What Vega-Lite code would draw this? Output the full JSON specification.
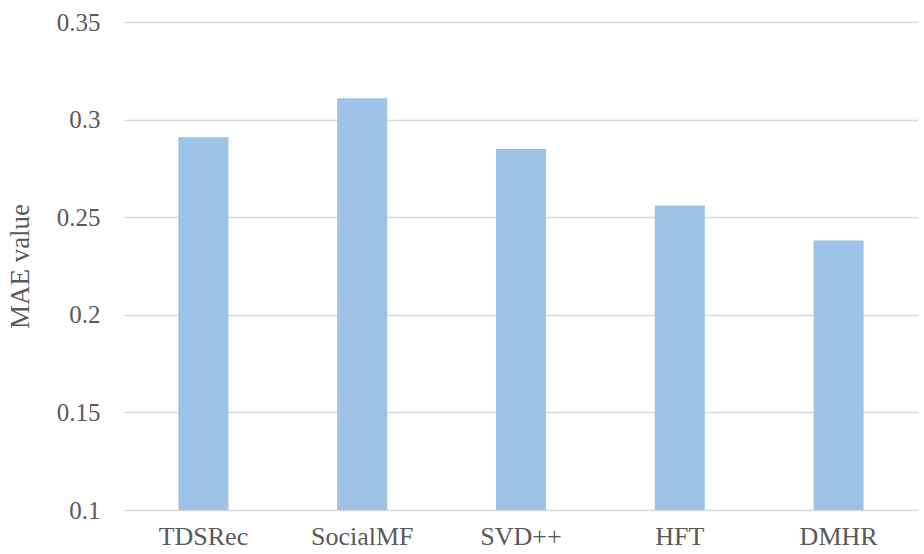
{
  "$schema": "https://vega.github.io/schema/vega-lite/v6.json",
  "width": 794,
  "height": 488,
  "autosize": {"type": "none"},
  "padding": {"left": 124, "top": 22, "right": 6, "bottom": 44},
  "background": "white",
  "config": {
    "view": {"stroke": null},
    "font": "Liberation Serif"
  },
  "data": {
    "values": [
      {"method": "TDSRec", "mae": 0.291},
      {"method": "SocialMF", "mae": 0.311},
      {"method": "SVD++", "mae": 0.285},
      {"method": "HFT", "mae": 0.256},
      {"method": "DMHR", "mae": 0.238}
    ]
  },
  "mark": {"type": "bar", "color": "#9DC3E6"},
  "encoding": {
    "x": {
      "field": "method", "type": "nominal", "sort": null,
      "scale": {"paddingInner": 0.685, "paddingOuter": 0.3425},
      "axis": {"title": null, "labelAngle": 0, "labelFont": "Liberation Serif", "labelColor": "#595959", "labelFontSize": 26, "ticks": false, "domain": false, "labelPadding": 13, "grid": false}
    },
    "y": {
      "field": "mae", "type": "quantitative",
      "scale": {"domain": [0.1, 0.35], "nice": false, "zero": false},
      "axis": {"title": "MAE value", "labelFont": "Liberation Serif", "titleFont": "Liberation Serif", "labelColor": "#595959", "titleColor": "#595959", "values": [0.1, 0.15, 0.2, 0.25, 0.3, 0.35], "labelFontSize": 25, "titleFontSize": 27, "titleFontWeight": "normal", "ticks": false, "domain": false, "labelPadding": 24, "titlePadding": 22, "gridColor": "#D9D9D9", "gridWidth": 1.5, "labelExpr": "format(datum.value, '.2~f')"}
    },
    "y2": {"datum": 0.1}
  }
}
